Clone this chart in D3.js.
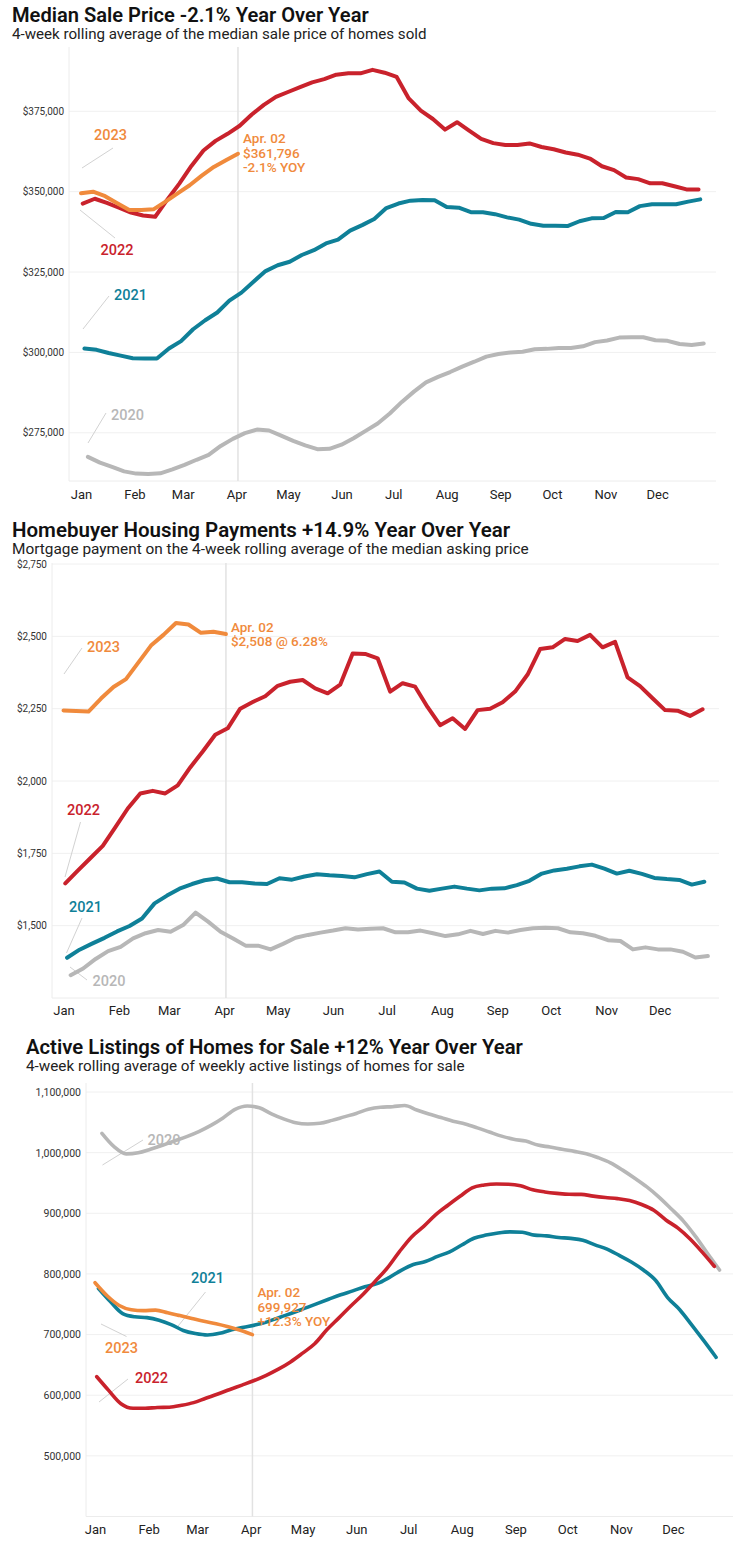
<!DOCTYPE html>
<html><head><meta charset="utf-8">
<script src="https://cdn.jsdelivr.net/npm/d3@7"></script>
<style>
body{margin:0;background:#fff;}
svg{display:block;font-family:Roboto,"Libre Franklin",sans-serif;}
</style></head>
<body><svg id="c" width="733" height="1545"></svg>
<script>
// ---------------- DATA ----------------
const months = ["Jan","Feb","Mar","Apr","May","Jun","Jul","Aug","Sep","Oct","Nov","Dec"];
const years = ["2020","2021","2022","2023"];
// first week-ending date of each year's weekly series
const weekStart = {"2020":"2020-01-05","2021":"2021-01-03","2022":"2022-01-02","2023":"2023-01-01"};

const priceTicks = [275000,300000,325000,350000,375000];
const paymentTicks = [1500,1750,2000,2250,2500,2750];
const listingTicks = [500000,600000,700000,800000,900000,1000000,1100000];

const price2020 = [267500,265700,264400,263000,262300,262200,262400,263600,265000,266600,268100,270900,273100,274900,276000,275700,274100,272500,271100,269900,270000,271300,273300,275600,277900,281000,284600,287800,290700,292400,293900,295600,297100,298700,299500,300000,300200,301000,301100,301400,301400,301900,303200,303700,304600,304700,304700,303800,303600,302600,302300,302800];
const price2021 = [301200,300800,299800,299000,298200,298100,298100,301200,303500,307200,310000,312400,316100,318600,322000,325300,327100,328200,330300,331800,333900,335100,337900,339600,341500,344900,346300,347200,347400,347300,345200,345000,343600,343600,343000,342000,341300,340000,339400,339400,339300,340800,341700,341800,343700,343600,345500,346100,346100,346100,346900,347600];
const price2022 = [346300,347800,346500,345000,343500,342600,342200,347500,352500,358000,362800,365800,368000,370500,374000,377000,379500,381000,382500,384000,385000,386400,386800,386800,387900,387000,385700,379000,375200,372600,369300,371600,369000,366400,365100,364500,364500,365000,363900,363200,362200,361500,360300,357900,356700,354400,353900,352600,352600,351700,350700,350700];
const price2023 = [349500,350000,348600,346400,344300,344300,344500,346900,349500,352000,355000,357700,359800,361796];

const payment2020 = [1329,1352,1385,1412,1427,1456,1474,1485,1479,1502,1545,1514,1479,1456,1431,1431,1418,1437,1458,1468,1476,1483,1491,1487,1489,1491,1477,1477,1483,1474,1464,1470,1482,1471,1482,1476,1485,1491,1493,1491,1477,1474,1465,1450,1447,1418,1425,1418,1418,1410,1390,1395];
const payment2021 = [1389,1417,1438,1458,1480,1499,1525,1577,1604,1628,1644,1657,1663,1650,1650,1646,1644,1664,1659,1670,1678,1674,1672,1667,1678,1687,1652,1649,1628,1621,1628,1635,1628,1622,1628,1629,1640,1655,1680,1691,1697,1705,1711,1697,1680,1690,1679,1665,1661,1658,1642,1652];
const payment2022 = [1646,1690,1733,1776,1840,1905,1957,1966,1957,1985,2047,2102,2160,2182,2250,2273,2293,2329,2343,2349,2320,2303,2333,2441,2439,2424,2309,2338,2326,2255,2193,2217,2180,2245,2250,2272,2309,2368,2456,2462,2491,2484,2505,2462,2481,2358,2328,2286,2245,2243,2225,2248];
const payment2023 = [2244,2242,2240,2285,2325,2352,2410,2468,2505,2546,2541,2512,2516,2508];

const listings2020 = [1031900,1010000,998000,999900,1005600,1012100,1019300,1026500,1034800,1045000,1057300,1071400,1076900,1074000,1064000,1055600,1049300,1047300,1048400,1053200,1059000,1064700,1071400,1074800,1075800,1077800,1070400,1063800,1058000,1051800,1047300,1040900,1034000,1027200,1022000,1019000,1012400,1009300,1005500,1002100,998300,991600,983200,971200,957800,943500,926700,907500,887500,862300,834000,806500];
const listings2021 = [776000,754000,734500,729300,727900,723600,716500,706800,701700,699300,702000,708000,712000,716000,721400,728600,735500,743100,750700,758200,765600,772000,779000,784000,794000,806000,815500,820500,828900,836400,847700,858800,864000,867600,869400,868700,864000,862800,860200,858600,855500,848000,840900,830500,819700,806500,789500,761000,741000,715600,689500,662500];
const listings2022 = [630500,607500,586000,578500,578400,579700,580100,583300,587800,595000,602000,609500,616700,624200,632800,642900,654900,669400,684800,707800,727500,747400,766500,788000,809900,836800,861000,878300,897700,913300,928000,942000,946700,948300,947900,945300,938800,935200,932900,931300,931200,928300,926000,924200,921000,914500,905000,889000,875500,857600,836000,812500];
const listings2023 = [785500,764000,748000,741000,739500,740300,736000,731300,726500,721800,718000,713000,707000,699927];

const titles = ["Median Sale Price -2.1% Year Over Year","Homebuyer Housing Payments +14.9% Year Over Year","Active Listings of Homes for Sale +12% Year Over Year"];
const subtitles = ["4-week rolling average of the median sale price of homes sold","Mortgage payment on the 4-week rolling average of the median asking price","4-week rolling average of weekly active listings of homes for sale"];
const priceNote = ["Apr. 02","$361,796","-2.1% YOY"];
const paymentNote = ["Apr. 02","$2,508 @ 6.28%"];
const listingNote = ["Apr. 02","699,927","+12.3% YOY"];

// ---------------- STYLE ----------------
const colors = {"2020":"#b7b7b7","2021":"#0f8098","2022":"#c9222c","2023":"#f08a3c"};
const parse = d3.timeParse("%Y-%m-%d");
const dayOf = s => { const d = parse(s); return d3.timeDay.count(d3.timeYear(d), d); };
const monthDays = d3.timeMonths(new Date(2023,0,1), new Date(2024,0,1)).map(d => d3.timeDay.count(new Date(2023,0,1), d));

const svg = d3.select("#c");

function fit(sel, w){
  const l = sel.node().getComputedTextLength();
  const fs = parseFloat(sel.attr("font-size"));
  sel.attr("font-size", (fs*w/l).toFixed(2));
}

function drawChart(cfg){
  const g = svg.append("g");
  fit(g.append("text").attr("x",cfg.tx).attr("y",cfg.ty).attr("font-size",20).attr("font-weight",600)
    .attr("fill","#111").text(cfg.title), cfg.tw);
  fit(g.append("text").attr("x",cfg.tx).attr("y",cfg.sy).attr("font-size",14).attr("font-weight",400)
    .attr("fill","#222").text(cfg.subtitle), cfg.sw);

  const x = d3.scaleLinear().domain([0,365]).range([cfg.x0, cfg.x0 + 365*cfg.k]);
  const y = d3.scaleLinear().domain(cfg.yDomain).range([cfg.bottom, cfg.top]);

  g.append("g").selectAll("line").data(cfg.ticks).join("line")
    .attr("x1",cfg.left).attr("x2",cfg.right).attr("y1",d=>y(d)).attr("y2",d=>y(d))
    .attr("stroke","#f0f0f0").attr("stroke-width",1);
  g.append("line").attr("x1",cfg.left).attr("x2",cfg.left).attr("y1",cfg.vTop).attr("y2",cfg.bottom).attr("stroke","#ececec");
  g.append("line").attr("x1",cfg.left).attr("x2",cfg.right).attr("y1",cfg.bottom).attr("y2",cfg.bottom).attr("stroke","#ececec");

  const ya = g.append("g").attr("transform",`translate(${cfg.left-5},0)`)
    .call(d3.axisLeft(y).tickValues(cfg.ticks).tickSize(0).tickPadding(0).tickFormat(cfg.fmt));
  ya.select(".domain").remove();
  ya.selectAll("text").attr("font-family","Roboto, sans-serif").attr("font-size",cfg.yfs).attr("fill","#333");

  const xa = g.append("g").attr("transform",`translate(0,${cfg.bottom})`)
    .call(d3.axisBottom(x).tickValues(monthDays).tickSize(0).tickPadding(cfg.xpad).tickFormat((d,i)=>months[i]));
  xa.select(".domain").remove();
  xa.selectAll("text").attr("font-family","Roboto, sans-serif").attr("font-size",13).attr("fill","#222");

  const lastDay = dayOf(weekStart["2023"]) + 7*(cfg.series["2023"].length-1);
  g.append("line").attr("x1",x(lastDay)).attr("x2",x(lastDay)).attr("y1",cfg.vTop).attr("y2",cfg.bottom)
    .attr("stroke","#e2e2e2").attr("stroke-width",1.5);

  years.forEach(yr=>{
    const L = cfg.labels[yr];
    g.append("line").attr("x1",L.l[0]).attr("y1",L.l[1]).attr("x2",L.l[2]).attr("y2",L.l[3])
      .attr("stroke","#d2d2d2").attr("stroke-width",1);
  });

  years.forEach(yr=>{
    const s0 = dayOf(weekStart[yr]);
    const line = d3.line().x((d,i)=>x(s0+7*i)).y(d=>y(d)).curve(cfg.curve);
    g.append("path").datum(cfg.series[yr]).attr("d",line).attr("fill","none")
      .attr("stroke",colors[yr]).attr("stroke-width",cfg.lw).attr("stroke-linejoin","round").attr("stroke-linecap","round");
  });

  years.forEach(yr=>{
    const L = cfg.labels[yr];
    g.append("text").attr("x",L.t[0]).attr("y",L.t[1]).attr("font-size",14.5).attr("font-weight",500)
      .attr("fill",colors[yr]).text(yr);
  });

  const ax = x(lastDay) + 5;
  cfg.note.forEach((t,i)=>{
    g.append("text").attr("x",ax).attr("y",cfg.noteY + i*14.5).attr("font-size",13.5).attr("font-weight",500)
      .attr("fill",colors["2023"]).text(t);
  });
}

drawChart({
  title:titles[0], subtitle:subtitles[0], tx:12, ty:22, sy:39, tw:357, sw:415,
  left:69, right:716, top:47, bottom:481, vTop:47, yDomain:[260000,395000], ticks:priceTicks,
  fmt:d3.format("$,"), yfs:10, x0:81, k:1.725, xpad:9, lw:4, curve:d3.curveLinear,
  series:{"2020":price2020,"2021":price2021,"2022":price2022,"2023":price2023},
  labels:{
    "2023":{t:[94,140],l:[82,168,113,148]},
    "2022":{t:[100.5,255],l:[80,210,115,238]},
    "2021":{t:[114,300],l:[83,329,109,296]},
    "2020":{t:[111,420],l:[88,443,106,413]}
  },
  note:priceNote, noteY:143
});

drawChart({
  title:titles[1], subtitle:subtitles[1], tx:12, ty:536.5, sy:553.5, tw:498, sw:517,
  left:52, right:719, top:564, bottom:998, vTop:563, yDomain:[1250,2750], ticks:paymentTicks,
  fmt:d3.format("$,"), yfs:10, x0:63.5, k:1.785, xpad:8, lw:4, curve:d3.curveLinear,
  series:{"2020":payment2020,"2021":payment2021,"2022":payment2022,"2023":payment2023},
  labels:{
    "2023":{t:[87,651.5],l:[64,674,82,648]},
    "2022":{t:[67,815],l:[65,877,80.5,822]},
    "2021":{t:[69,911.5],l:[66.5,953,82,918]},
    "2020":{t:[92.5,986],l:[70,967,87,980]}
  },
  note:paymentNote, noteY:631.5
});

drawChart({
  title:titles[2], subtitle:subtitles[2], tx:26, ty:1054, sy:1071, tw:497, sw:439,
  left:86, right:733, top:1092, bottom:1516.5, vTop:1083, yDomain:[400000,1100000], ticks:listingTicks,
  fmt:d3.format(","), yfs:10.5, x0:95, k:1.73, xpad:8, lw:3.6, curve:d3.curveMonotoneX,
  series:{"2020":listings2020,"2021":listings2021,"2022":listings2022,"2023":listings2023},
  labels:{
    "2020":{t:[147.5,1145],l:[102.5,1165,143,1140]},
    "2023":{t:[105,1352.5],l:[101,1324,126.5,1336.5]},
    "2022":{t:[135,1383],l:[99,1402,128,1379]},
    "2021":{t:[191,1283],l:[205.5,1292,176.5,1328]}
  },
  note:listingNote, noteY:1297
});
</script>
</body></html>
